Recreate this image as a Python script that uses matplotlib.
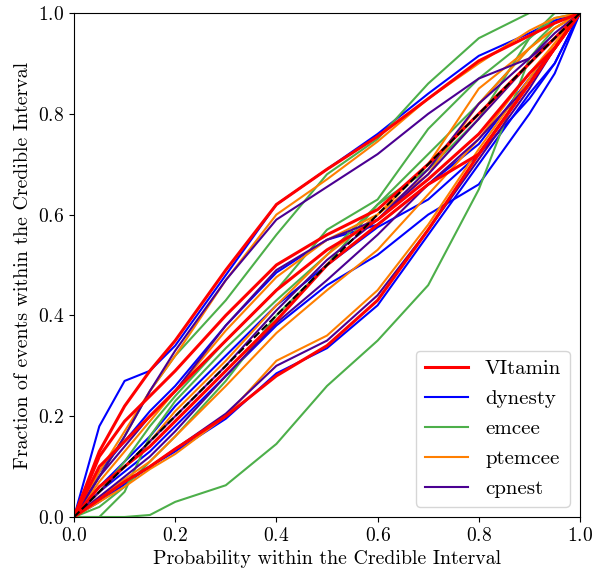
import matplotlib
matplotlib.use("Agg")
import matplotlib.pyplot as plt

plt.rcParams['font.family'] = 'serif'
plt.rcParams['font.serif'] = ['cmr10']
plt.rcParams['mathtext.fontset'] = 'cm'
plt.rcParams['axes.unicode_minus'] = False
plt.rcParams['axes.formatter.use_mathtext'] = True

# probability grid the curves were read at
p = [0, 0.05, 0.1, 0.15, 0.2, 0.3, 0.4, 0.5, 0.6, 0.7, 0.8, 0.9, 0.95, 1.0]

samplers = ['VItamin', 'dynesty', 'emcee', 'ptemcee', 'cpnest']
colors = ['#ff0000', '#0000ff', '#4daf4a', '#ff7f00', '#4b0092']

# one list of curves per sampler (one curve per parameter)
vitamin = [
    [0, 0.13, 0.22, 0.29, 0.35, 0.49, 0.62, 0.69, 0.755, 0.83, 0.905, 0.955, 0.98, 1],
    [0, 0.12, 0.19, 0.24, 0.29, 0.40, 0.50, 0.56, 0.61, 0.70, 0.80, 0.90, 0.95, 1],
    [0, 0.10, 0.15, 0.20, 0.25, 0.35, 0.45, 0.53, 0.59, 0.67, 0.76, 0.88, 0.93, 1],
    [0, 0.06, 0.10, 0.14, 0.19, 0.29, 0.39, 0.50, 0.58, 0.66, 0.72, 0.86, 0.93, 1],
    [0, 0.035, 0.07, 0.10, 0.135, 0.20, 0.28, 0.34, 0.43, 0.57, 0.72, 0.86, 0.93, 1],
]
dynesty = [
    [0, 0.18, 0.27, 0.29, 0.34, 0.48, 0.62, 0.69, 0.76, 0.84, 0.915, 0.96, 0.985, 1],
    [0, 0.09, 0.15, 0.21, 0.26, 0.38, 0.485, 0.55, 0.58, 0.66, 0.74, 0.87, 0.93, 1],
    [0, 0.06, 0.11, 0.16, 0.22, 0.32, 0.42, 0.50, 0.575, 0.63, 0.72, 0.83, 0.90, 1],
    [0, 0.05, 0.09, 0.13, 0.18, 0.28, 0.38, 0.46, 0.52, 0.60, 0.66, 0.80, 0.88, 1],
    [0, 0.03, 0.065, 0.10, 0.13, 0.195, 0.285, 0.335, 0.42, 0.56, 0.70, 0.84, 0.90, 1],
]
emcee = [
    [0, 0.08, 0.16, 0.25, 0.32, 0.43, 0.56, 0.68, 0.75, 0.86, 0.95, 1.0, 1.0, 1],
    [0, 0.05, 0.11, 0.18, 0.24, 0.35, 0.45, 0.57, 0.63, 0.77, 0.87, 0.95, 0.99, 1],
    [0, 0.0, 0.05, 0.16, 0.23, 0.335, 0.43, 0.52, 0.62, 0.72, 0.82, 0.93, 0.98, 1],
    [0, 0.02, 0.06, 0.11, 0.16, 0.27, 0.40, 0.50, 0.62, 0.69, 0.79, 0.95, 1.0, 1],
    [0, 0.0, 0.0, 0.004, 0.03, 0.063, 0.145, 0.26, 0.35, 0.46, 0.65, 0.91, 0.97, 1],
]
ptemcee = [
    [0, 0.09, 0.17, 0.25, 0.32, 0.47, 0.60, 0.67, 0.745, 0.83, 0.90, 0.965, 0.99, 1],
    [0, 0.07, 0.13, 0.19, 0.25, 0.37, 0.476, 0.55, 0.60, 0.68, 0.82, 0.93, 0.97, 1],
    [0, 0.05, 0.10, 0.15, 0.21, 0.31, 0.42, 0.52, 0.60, 0.70, 0.85, 0.93, 0.97, 1],
    [0, 0.04, 0.075, 0.11, 0.16, 0.26, 0.365, 0.45, 0.53, 0.64, 0.75, 0.88, 0.94, 1],
    [0, 0.03, 0.06, 0.095, 0.125, 0.20, 0.31, 0.36, 0.45, 0.58, 0.73, 0.87, 0.94, 1],
]
cpnest = [
    [0, 0.08, 0.16, 0.25, 0.33, 0.47, 0.59, 0.655, 0.72, 0.80, 0.87, 0.91, 0.95, 1],
    [0, 0.08, 0.14, 0.20, 0.25, 0.38, 0.49, 0.55, 0.59, 0.68, 0.79, 0.90, 0.95, 1],
    [0, 0.05, 0.10, 0.15, 0.20, 0.30, 0.41, 0.51, 0.59, 0.69, 0.82, 0.91, 0.96, 1],
    [0, 0.04, 0.08, 0.12, 0.17, 0.28, 0.385, 0.47, 0.56, 0.66, 0.75, 0.86, 0.93, 1],
    [0, 0.035, 0.07, 0.10, 0.135, 0.205, 0.30, 0.35, 0.44, 0.57, 0.71, 0.85, 0.93, 1],
]
curves = [vitamin, dynesty, emcee, ptemcee, cpnest]

fig = plt.figure(figsize=(6.03, 5.73), dpi=100)
ax = fig.add_axes([74 / 603, 56 / 573, 506 / 603, 504 / 573])

# draw red last so it sits on top
order = [1, 2, 3, 4, 0]
handles = {}
for k in order:
    lw = 2.2 if k == 0 else 1.5
    for y in curves[k]:
        h, = ax.plot(p, y, color=colors[k], lw=lw, label=samplers[k])
    handles[k] = h

ax.plot([0, 1], [0, 1], 'k--', lw=1.5)

ax.set_xlim(0, 1)
ax.set_ylim(0, 1)
ax.set_xlabel('Probability within the Credible Interval', fontsize=14.3)
ax.set_ylabel('Fraction of events within the Credible Interval', fontsize=14.3)
ax.tick_params(labelsize=14)
ax.legend([handles[k] for k in range(5)], samplers, loc='lower right',
          fontsize=15, labelspacing=0.55, handlelength=2.1)

fig.savefig('out.png', dpi=100)
